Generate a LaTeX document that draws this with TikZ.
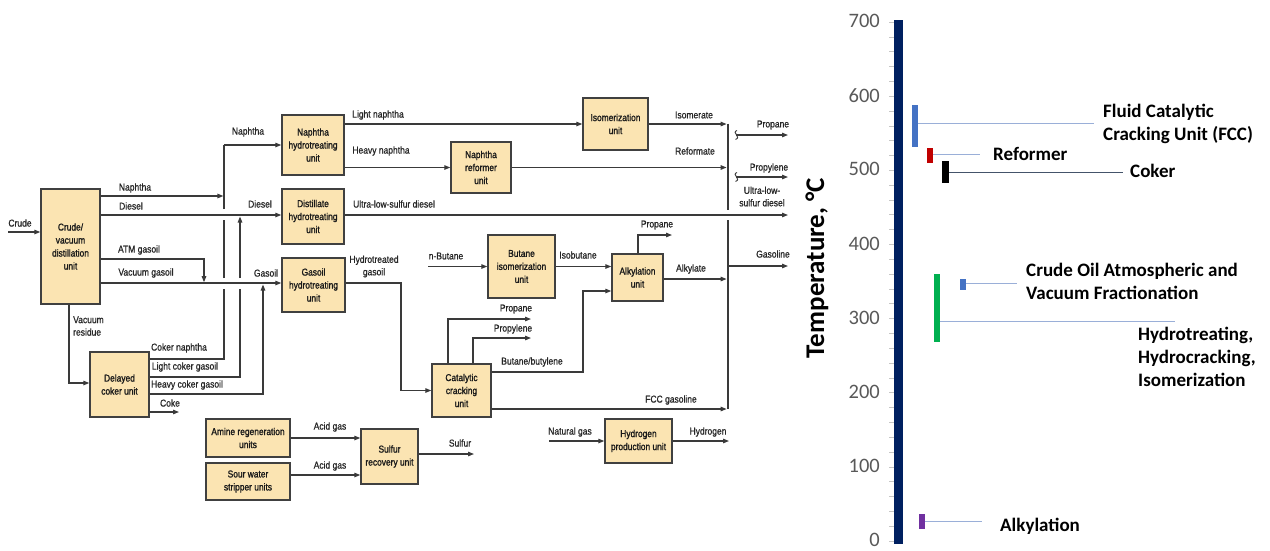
\documentclass[tikz,border=0pt]{standalone}
\usepackage{fontspec}
\usetikzlibrary{arrows.meta}
\newfontfamily\flowfont[FakeStretch=0.85,FakeBold=0.8]{Liberation Sans}
\newfontfamily\unitfont[FakeStretch=0.84,FakeBold=1.3]{Liberation Sans}
\newfontfamily\chartfont{Carlito}
\definecolor{unitfill}{HTML}{FBE4B2}
\definecolor{unitedge}{HTML}{404040}
\definecolor{pipe}{HTML}{3A3A3A}
\definecolor{navy}{HTML}{002060}
\definecolor{tickgray}{HTML}{595959}
\definecolor{fccblue}{HTML}{4472C4}
\definecolor{refred}{HTML}{C00000}
\definecolor{htgreen}{HTML}{00B050}
\definecolor{alkpurple}{HTML}{7030A0}
\definecolor{leaderblue}{HTML}{9AAFD8}
\definecolor{leaderdark}{HTML}{44546A}
\tikzset{
  unit/.style={draw=unitedge, fill=unitfill, line width=1.4pt, inner sep=0pt,
    align=center, text=black!90, font=\unitfont\fontsize{10}{13}\selectfont},
  plain/.style={draw=pipe, line width=1.2pt},
  stream/.style={plain, -{Triangle[length=6pt,width=4.5pt]}},
  lbl/.style={inner sep=0pt, align=center, text=black!85,
    font=\flowfont\fontsize{10}{12.5}\selectfont},
  squiggle/.style={draw=pipe, line width=0.9pt},
  tempnum/.style={anchor=east, inner sep=0pt, text=tickgray,
    font=\chartfont\fontsize{20.5}{24}\selectfont},
  rangelbl/.style={anchor=west, inner sep=0pt, align=left,
    font=\chartfont\bfseries\fontsize{19}{23}\selectfont},
  leader/.style={draw=leaderblue, line width=0.9pt},
}
\begin{document}
\begin{tikzpicture}[x=1pt, y=-1pt]
\useasboundingbox[fill=white] (0,0) rectangle (1270,550);

% ---------------- process units ----------------
\node[unit, minimum width=59pt, minimum height=115pt] (cdu) at (70.5,246.5) {Crude/\\vacuum\\distillation\\unit};
\node[unit, minimum width=59pt, minimum height=65pt] (coker) at (119.5,384.5) {Delayed\\coker unit};
\node[unit, minimum width=62pt, minimum height=60pt] (nht) at (313,145) {Naphtha\\hydrotreating\\unit};
\node[unit, minimum width=62pt, minimum height=55pt] (dht) at (313,216.5) {Distillate\\hydrotreating\\unit};
\node[unit, minimum width=63pt, minimum height=54pt] (ght) at (313.5,285) {Gasoil\\hydrotreating\\unit};
\node[unit, minimum width=60pt, minimum height=51pt] (reformer) at (481,167.5) {Naphtha\\reformer\\unit};
\node[unit, minimum width=65pt, minimum height=52pt] (isom) at (615.5,124) {Isomerization\\unit};
\node[unit, minimum width=67pt, minimum height=63pt] (butiso) at (521.5,266.5) {Butane\\isomerization\\unit};
\node[unit, minimum width=51pt, minimum height=47pt] (alky) at (637.5,277.5) {Alkylation\\unit};
\node[unit, minimum width=59pt, minimum height=53pt] (fcc) at (461.5,390.5) {Catalytic\\cracking\\unit};
\node[unit, minimum width=84pt, minimum height=38pt] (amine) at (248,438) {Amine regeneration\\units};
\node[unit, minimum width=84pt, minimum height=37pt] (sour) at (248,481.5) {Sour water\\stripper units};
\node[unit, minimum width=57pt, minimum height=55pt] (sru) at (389.5,456.5) {Sulfur\\recovery unit};
\node[unit, minimum width=67pt, minimum height=44pt] (h2) at (638.5,441) {Hydrogen\\production unit};

% ---------------- reference levels and bends ----------------
\coordinate (crudein) at (8,232);
\coordinate (yNap) at (0,196);
\coordinate (yDsl) at (0,215);
\coordinate (yAtm) at (0,259);
\coordinate (yVgo) at (0,283);
\coordinate (atmdrop) at (204,259);
\coordinate (vr) at (69,383);
\coordinate (nT) at (224,145);
\coordinate (nB) at (224,359);
\coordinate (dT) at (240,216.5);
\coordinate (dB) at (240,377);
\coordinate (gT) at (263,284.5);
\coordinate (gB) at (263,394);
\coordinate (yCoke) at (0,412);
\coordinate (hgo) at (401,283);
\coordinate (fprop) at (448,319);
\coordinate (fpropy) at (473,338);
\coordinate (bbA) at (583,372);
\coordinate (bbB) at (583,291);
\coordinate (yFccg) at (0,409);
\coordinate (nbut) at (428,266.5);
\coordinate (aprop) at (638,235);
\coordinate (yAlk) at (0,279);
\coordinate (colT) at (728,123.5);
\coordinate (colB) at (728,409);
\coordinate (yAcid) at (0,475);
\coordinate (ySul) at (0,454);
\coordinate (natgas) at (549,441);

% ---------------- crude unit streams ----------------
\draw[stream] (crudein) -- (crudein -| cdu.west);
\draw[stream] (cdu.east |- yNap) -- (223.4,196);
\draw[stream] (cdu.east |- yDsl) -- (dht.west |- yDsl);
\draw[stream] (cdu.east |- yAtm) -- (atmdrop) -- (204,282.2);
\draw[stream] (cdu.east |- yVgo) -- (ght.west |- yVgo);
\draw[stream] (cdu.south -| vr) -- (vr) -- (coker.west |- vr);

% naphtha collector (broken where it crosses other lines)
\draw[plain] (coker.east |- nB) -- (nB) -- (224,289);
\draw[plain] (224,278) -- (224,220);
\draw[plain] (224,209) -- (nT);
\draw[stream] (nT) -- (nht.west |- nT);
% light coker gasoil rises to the diesel line
\draw[plain] (coker.east |- dB) -- (dB) -- (240,289);
\draw[stream] (240,278) -- (dT);
% heavy coker gasoil rises to the gasoil line
\draw[stream] (coker.east |- gB) -- (gB) -- (gT);
\draw[stream] (coker.east |- yCoke) -- (179,412);

% ---------------- hydrotreaters, reformer, isomerization ----------------
\draw[stream] (nht.east |- isom.west) -- (isom.west);
\draw[stream] (nht.east |- reformer.west) -- (reformer.west);
\draw[stream] (isom.east) -- (726.6,124);
\draw[stream] (reformer.east) -- (726.6,167.5);
\draw[stream] (dht.east |- yDsl) -- (788,215);
\draw[stream] (ght.east |- yVgo) -- (hgo) -- (hgo |- fcc.west) -- (fcc.west);

% product collector
\draw[plain] (colT) -- (728,210);
\draw[plain] (728,220) -- (colB);
\draw[stream] (728,266) -- (788,266);
\draw[squiggle] (737,130.5) .. controls (731,132.5) and (742,137) .. (735.5,139.5);
\draw[stream] (736,135) -- (788,135);
\draw[squiggle] (737,172.5) .. controls (731,174.5) and (742,179) .. (735.5,181.5);
\draw[stream] (736,177) -- (788,177);

% ---------------- cat cracker, butane units, alkylation ----------------
\draw[stream] (fcc.north -| fprop) -- (fprop) -- (531,319);
\draw[stream] (fcc.north -| fpropy) -- (fpropy) -- (531,338);
\draw[stream] (fcc.east |- bbA) -- (bbA) -- (bbB) -- (alky.west |- bbB);
\draw[stream] (fcc.east |- yFccg) -- (726.6,409);
\draw[stream] (nbut) -- (butiso.west);
\draw[stream] (butiso.east) -- (alky.west |- butiso.east);
\draw[stream] (alky.north -| aprop) -- (aprop) -- (672,235);
\draw[stream] (alky.east |- yAlk) -- (726.6,279);

% ---------------- sulfur and hydrogen ----------------
\draw[stream] (amine.east) -- (sru.west |- amine.east);
\draw[stream] (sour.east |- yAcid) -- (sru.west |- yAcid);
\draw[stream] (sru.east |- ySul) -- (474,454);
\draw[stream] (natgas) -- (h2.west);
\draw[stream] (h2.east) -- (729,441);

% ---------------- stream labels ----------------
\node[lbl] (lcrude) at (20,223) {Crude};
\node[lbl] (lnap1) at (135,188) {Naphtha};
\node[lbl] (ldsl1) at (131,206) {Diesel};
\node[lbl] (latm) at (139,250) {ATM gasoil};
\node[lbl] (lvgo) at (146,273) {Vacuum gasoil};
\node[lbl, align=left, anchor=west] (lvr) at (73,326) {Vacuum\\residue};
\node[lbl] (lnap2) at (248,132) {Naphtha};
\node[lbl] (ldsl2) at (260,204) {Diesel};
\node[lbl] (lgo) at (266,273) {Gasoil};
\node[lbl] (lcn) at (179,348) {Coker naphtha};
\node[lbl] (llcg) at (185,367) {Light coker gasoil};
\node[lbl] (lhcg) at (187,385) {Heavy coker gasoil};
\node[lbl] (lcoke) at (170,403) {Coke};
\node[lbl] (llnap) at (378,115) {Light naphtha};
\node[lbl] (lhnap) at (381,151) {Heavy naphtha};
\node[lbl] (lulsd) at (394,204) {Ultra-low-sulfur diesel};
\node[lbl] (lhgo) at (374,266.5) {Hydrotreated\\gasoil};
\node[lbl] (lnbut) at (446,256) {n-Butane};
\node[lbl] (libut) at (578,255) {Isobutane};
\node[lbl] (laprop) at (657,225) {Propane};
\node[lbl] (lalk) at (691,269) {Alkylate};
\node[lbl] (lfprop) at (516,309) {Propane};
\node[lbl] (lfpropy) at (513,329) {Propylene};
\node[lbl] (lbb) at (532,362) {Butane/butylene};
\node[lbl] (lfccg) at (671,400) {FCC gasoline};
\node[lbl] (lng) at (570,432) {Natural gas};
\node[lbl] (lh2) at (708,432) {Hydrogen};
\node[lbl] (lisom) at (694,115) {Isomerate};
\node[lbl] (lref) at (695,151) {Reformate};
\node[lbl] (lprop) at (773,125) {Propane};
\node[lbl] (lpropy) at (769,168) {Propylene};
\node[lbl] (lulsd2) at (762,196.5) {Ultra-low-\\sulfur diesel};
\node[lbl] (lgas) at (773,254) {Gasoline};
\node[lbl] (lacid1) at (330,427) {Acid gas};
\node[lbl] (lacid2) at (330,466) {Acid gas};
\node[lbl] (lsul) at (460,443) {Sulfur};

% ---------------- temperature scale ----------------
\foreach \t in {0,20,...,700}
  \draw[gray!45, line width=0.6pt] (889,{541-0.7414*\t}) -- (894,{541-0.7414*\t});
\fill[navy] (894,20) rectangle (903,544);
\foreach \t in {0,100,...,700}
  \node[tempnum] at (880,{540-0.7414*\t}) {\t};
\node[rotate=90, inner sep=0pt, font=\chartfont\bfseries\fontsize{27}{30}\selectfont] (taxis) at (817,268) {Temperature, °C};

% FCC
\fill[fccblue] (912,105) rectangle (918,147);
\draw[leader] (918,123) -- (1094,123);
\node[rangelbl] (tfcc) at (1103,123.5) {Fluid Catalytic\\Cracking Unit (FCC)};
% Reformer
\fill[refred] (927,148) rectangle (933,163);
\draw[leader] (933,154) -- (980,154);
\node[rangelbl] (tref) at (993,154) {Reformer};
% Coker
\fill[black] (942,161) rectangle (949,183);
\draw[leader, draw=leaderdark] (949,172) -- (1123,172);
\node[rangelbl] (tcok) at (1130,171) {Coker};
% Crude fractionation
\fill[fccblue] (960,279) rectangle (966,290);
\draw[leader] (966,283) -- (1017,283);
\node[rangelbl] (tcrude) at (1026,281.5) {Crude Oil Atmospheric and\\Vacuum Fractionation};
% Hydroprocessing
\fill[htgreen] (934,274) rectangle (940,342);
\draw[leader] (940,321) -- (1175,321);
\node[rangelbl] (thyd) at (1138,356.5) {Hydrotreating,\\Hydrocracking,\\Isomerization};
% Alkylation
\fill[alkpurple] (919,514) rectangle (925,529);
\draw[leader] (925,521) -- (982,521);
\node[rangelbl] (talk) at (1000,526) {Alkylation};
\end{tikzpicture}
\end{document}
